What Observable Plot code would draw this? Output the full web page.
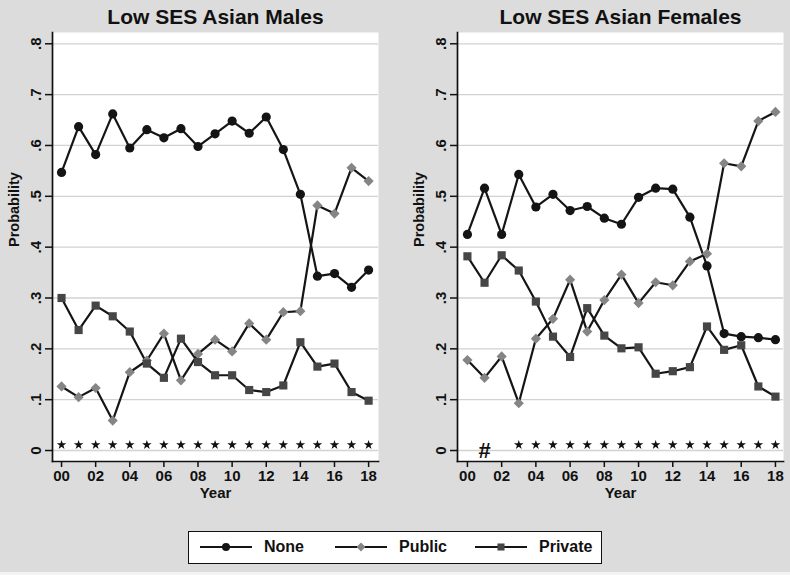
<!DOCTYPE html>
<html><head><meta charset="utf-8">
<script src="https://cdn.jsdelivr.net/npm/d3@7"></script>
<script src="https://cdn.jsdelivr.net/npm/@observablehq/plot@0.6"></script>
<style>
body{margin:0;}
#wrap{position:relative;width:790px;height:575px;background:#dcdcdc;overflow:hidden;font-family:"Liberation Sans",Arial,sans-serif;}
.pan{position:absolute;top:0;}
#legend{position:absolute;left:188px;top:531px;width:414px;height:33px;box-sizing:border-box;background:#fff;border:1.5px solid #111;}
.li{position:absolute;top:0;height:30px;display:flex;align-items:center;font-size:16px;font-weight:bold;color:#111;}
#bot{position:absolute;left:0;top:572px;width:790px;height:3px;background:#f4f4f4;}
</style></head><body><div id="wrap"><div id="bot"></div></div>
<script>
const years = [0,1,2,3,4,5,6,7,8,9,10,11,12,13,14,15,16,17,18];
const seriesNames = ["None","Public","Private"];
const seriesColors = ["#141414","#858585","#464646"];
const titles = ["Low SES Asian Males","Low SES Asian Females"];
const yTicks = [0,0.1,0.2,0.3,0.4,0.5,0.6,0.7,0.8];
const xTicks = [0,2,4,6,8,10,12,14,16,18];
const yLabel = "Probability";
const xLabel = "Year";

const maleNone    = [0.547,0.637,0.582,0.662,0.595,0.631,0.615,0.633,0.598,0.623,0.648,0.624,0.656,0.592,0.504,0.343,0.348,0.321,0.355];
const malePublic  = [0.126,0.105,0.123,0.059,0.154,0.177,0.230,0.138,0.190,0.218,0.195,0.250,0.218,0.272,0.274,0.482,0.466,0.556,0.530];
const malePrivate = [0.300,0.237,0.285,0.264,0.234,0.171,0.143,0.220,0.174,0.148,0.148,0.119,0.115,0.128,0.213,0.165,0.171,0.115,0.098];

const femaleNone    = [0.425,0.516,0.425,0.543,0.479,0.504,0.472,0.480,0.457,0.445,0.498,0.516,0.514,0.459,0.363,0.230,0.224,0.222,0.218];
const femalePublic  = [0.178,0.143,0.185,0.093,0.220,0.259,0.336,0.234,0.296,0.346,0.290,0.331,0.325,0.372,0.387,0.565,0.559,0.648,0.666];
const femalePrivate = [0.382,0.330,0.384,0.354,0.293,0.224,0.184,0.280,0.226,0.201,0.203,0.151,0.156,0.164,0.244,0.198,0.207,0.126,0.106];

const maleStarYears = [0,1,2,3,4,5,6,7,8,9,10,11,12,13,14,15,16,17,18];
const femaleStarYears = [3,4,5,6,7,8,9,10,11,12,13,14,15,16,17,18];
const femaleHashYears = [1];
const starLevel = 0.011;
const hashLevel = -0.001;

const colorOf = Object.fromEntries(seriesNames.map((s,i)=>[s,seriesColors[i]]));
const fmtY = d => d === 0 ? "0" : d.toFixed(1).replace(/^0/, "");
const fmtX = d => String(d).padStart(2, "0");
const FONT = "'Liberation Sans', Arial, Helvetica, sans-serif";

function panel(title, none, pub, priv, stars, hashes, o) {
  const rows = [];
  const vals = [none, pub, priv];
  seriesNames.forEach((s, k) => years.forEach((yr, i) => rows.push({year: yr, series: s, value: vals[k][i]})));
  return Plot.plot({
    width: 395, height: 505,
    marginLeft: o.ml, marginRight: o.mr, marginTop: 32, marginBottom: 44,
    x: {domain: o.xd},
    y: {domain: [-0.0216, 0.8222]},
    color: {type: "identity"},
    symbol: {domain: seriesNames, range: ["circle", "diamond2", "square"]},
    style: {background: "transparent", fontFamily: FONT, fontSize: "14px", color: "#111"},
    marks: [
      Plot.frame({fill: "white", stroke: null}),
      Plot.gridY(yTicks, {stroke: "#d2d2d2", strokeOpacity: 1, strokeWidth: 1.3}),
      Plot.frame({anchor: "left", stroke: "#111", strokeWidth: 1.7}),
      Plot.frame({anchor: "bottom", stroke: "#111", strokeWidth: 1.7}),
      Plot.axisY(yTicks, {tickFormat: fmtY, tickRotate: -90, tickSize: 7, tickPadding: 5, fontSize: 15, fontWeight: "bold", label: null, stroke: "#111", strokeWidth: 1.5}),
      Plot.axisX(xTicks, {tickFormat: fmtX, tickSize: 6, tickPadding: 3, fontSize: 15, fontWeight: "bold", label: null, stroke: "#111", strokeWidth: 1.5}),
      Plot.text([yLabel], {frameAnchor: "left", lineAnchor: "middle", dx: -38, rotate: -90, fontSize: 14.5, fontWeight: "bold"}),
      Plot.text([xLabel], {frameAnchor: "bottom", lineAnchor: "middle", dy: 32, fontSize: 15, fontWeight: "bold"}),
      Plot.text([title], {frameAnchor: "top", lineAnchor: "middle", dy: -15, fontSize: 21, fontWeight: "bold"}),
      Plot.line(rows, {x: "year", y: "value", z: "series", stroke: "#151515", strokeWidth: 2.2}),
      Plot.dot(rows, {x: "year", y: "value", symbol: "series", fill: d => colorOf[d.series], r: 4.6}),
      Plot.dot(stars, {x: d => d, y: () => starLevel, symbol: "star", r: 3, fill: "#111"}),
      Plot.text(hashes, {x: d => d, y: () => hashLevel, text: () => "#", fontSize: 22, fontWeight: "bold", fill: "#111"})
    ]
  });
}

const wrap = document.getElementById("wrap");
const left = panel(titles[0], maleNone, malePublic, malePrivate, maleStarYears, [], {ml: 52, mr: 17, xd: [-0.53, 18.58]});
const right = panel(titles[1], femaleNone, femalePublic, femalePrivate, femaleStarYears, femaleHashYears, {ml: 62, mr: 7, xd: [-0.58, 18.47]});
left.classList.add("pan"); left.style.left = "0px";
right.classList.add("pan"); right.style.left = "395px";
wrap.appendChild(left); wrap.appendChild(right);

// legend
const legend = d3.select(wrap).append("div").attr("id", "legend");
const legPos = [10, 145, 285];
const legSym = [d3.symbolCircle, d3.symbolDiamond2, d3.symbolSquare];
seriesNames.forEach((s, i) => {
  const item = legend.append("div").attr("class", "li").style("left", legPos[i] + "px");
  const svg = item.append("svg").attr("width", 54).attr("height", 30).style("margin-right", "11px");
  svg.append("line").attr("x1", 1).attr("x2", 53).attr("y1", 15).attr("y2", 15).attr("stroke", "#151515").attr("stroke-width", 2.2);
  svg.append("path").attr("transform", "translate(27,15)").attr("d", d3.symbol(legSym[i], 50)()).attr("fill", seriesColors[i]);
  item.append("span").text(s);
});
</script>
</body></html>
